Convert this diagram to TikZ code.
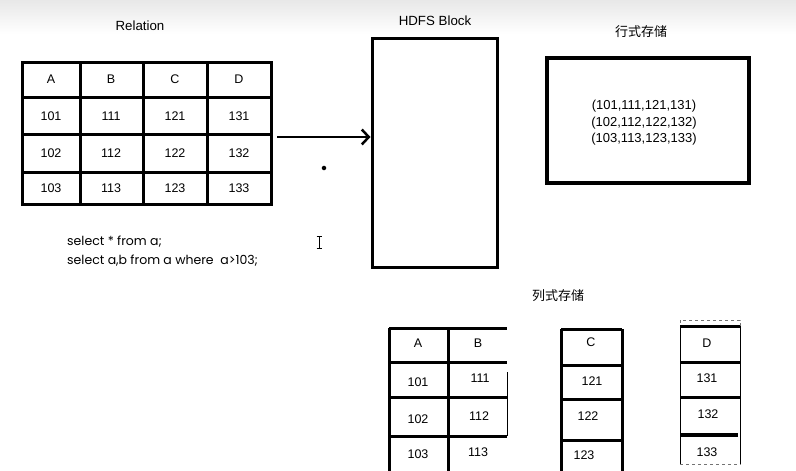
\documentclass[tikz,border=0pt]{standalone}
\usepackage{fontspec}
\setmainfont{Liberation Sans}
\newfontfamily\cjk{Noto Sans CJK SC}
\newfontfamily\sqlfont{Poppins}
\usetikzlibrary{arrows.meta}
\tikzset{
  cell/.style={font=\fontsize{12.5}{14}\selectfont, inner sep=0pt},
  title/.style={font=\fontsize{13.3}{15}\selectfont, inner sep=0pt},
  grid/.style={line width=3pt},
  thin grid/.style={line width=1pt},
}
\begin{document}
\begin{tikzpicture}[x=1pt,y=-1pt]
\useasboundingbox (0,0) rectangle (796,471);
\clip (0,0) rectangle (796,471);
\shade[top color=black!9, bottom color=white] (0,0) rectangle (796,34);

% Relation
\node[title] at (140,26) (reltitle) {Relation};
\draw[grid] (22,62) rectangle (271,204);
\foreach \x in {80,143,207} \draw[grid] (\x,62) -- (\x,204);
\foreach \y in {97,134,172} \draw[grid] (22,\y) -- (271,\y);
\foreach \t/\x in {A/51,B/111,C/175,D/239}
  \node[cell] at (\x,79.5) (rel\t) {\t};
\foreach \a/\b/\c/\d/\y in {101/111/121/131/116,102/112/122/132/153,103/113/123/133/188}{
  \node[cell] at (51,\y) (rel\a) {\a};
  \node[cell] at (111,\y) (rel\b) {\b};
  \node[cell] at (175,\y) (rel\c) {\c};
  \node[cell] at (239,\y) (rel\d) {\d};
}

% HDFS block
\node[title] at (435,21) (hdfstitle) {HDFS Block};
\node[draw, line width=3pt, minimum width=125pt, minimum height=229pt, inner sep=0pt] at (434.5,152.5) (hdfs) {};
\coordinate (arrstart) at (277,137);
\draw[line width=2.5pt, -{Straight Barb[length=7pt,width=15pt]}] (arrstart) -- (arrstart -| hdfs.west);
\node[circle, fill, inner sep=1.6pt] at (324,168) (dot) {};
\draw[line width=0.7pt] (316.5,236) -- (321.5,236) (319,236) -- (319,248) (316.5,248) -- (321.5,248);

% SQL
\node[anchor=west, align=left, inner sep=0pt, font=\sqlfont\fontsize{12.5}{19}\selectfont] at (67,251.5) (sql)
  {select * from a;\\select a,b from a where\ \ a>103;};

% row store
\node[title, font=\cjk\fontsize{13}{15}\selectfont] at (641,32) (rowtitle) {行式存储};
\node[draw, line width=3.5pt, minimum width=202pt, minimum height=125pt, inner sep=0pt] at (648,120.5) (rowbox) {};
\node[align=center, inner sep=0pt, font=\fontsize{13}{16.5}\selectfont] at (644,123) (rowdata)
  {(101,111,121,131)\\(102,112,122,132)\\(103,113,123,133)};

% column store
\node[title, font=\cjk\fontsize{13}{15}\selectfont] at (558,296) (coltitle) {列式存储};
% A B
\foreach \x in {389,448} \draw[grid] (\x,328) -- (\x,475);
\foreach \y in {328,362,397,436} \draw[grid] (389,\y) -- (507,\y);
\draw[thin grid] (507,372) -- (507,436);
\node[cell] at (418,343) (colA) {A};
\node[cell] at (478,343) (colB) {B};
\node[cell] at (418,382) (col101) {101};
\node[cell] at (480,378) (col111) {111};
\node[cell] at (418,419) (col102) {102};
\node[cell] at (479,416) (col112) {112};
\node[cell] at (418,454) (col103) {103};
\node[cell] at (478,452) (col113) {113};
% C
\foreach \x in {561,622} \draw[grid] (\x,329) -- (\x,475);
\foreach \y in {329,365,399,440} \draw[grid] (561,\y) -- (622,\y);
\node[cell] at (591,342) (colC) {C};
\node[cell] at (592,381) (col121) {121};
\node[cell] at (588,416) (col122) {122};
\node[cell] at (584,455) (col123) {123};
% D
\draw[thin grid, dashed, black!55] (680,320) rectangle (740,464);
\foreach \x in {680,740} \draw[thin grid] (\x,326) -- (\x,464);
\foreach \y in {326,362,397} \draw[grid] (680,\y) -- (740,\y);
\draw[line width=3.5pt] (680,435) -- (738,435);
\node[cell] at (707,343) (colD) {D};
\node[cell] at (707,378) (col131) {131};
\node[cell] at (708,414) (col132) {132};
\node[cell] at (707,452) (col133) {133};
\end{tikzpicture}
\end{document}
